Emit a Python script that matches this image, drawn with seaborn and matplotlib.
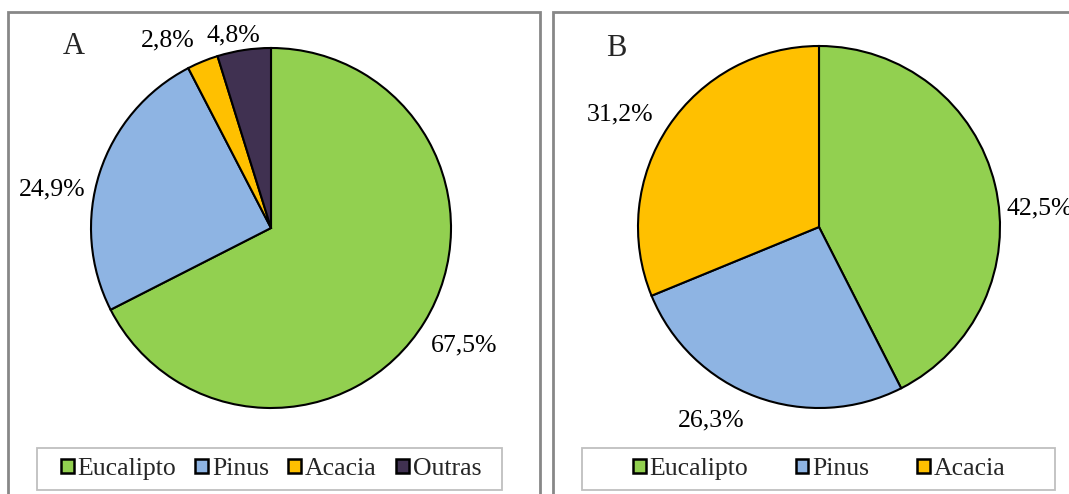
import numpy as np
import matplotlib.pyplot as plt
import seaborn as sns
from matplotlib.patches import Rectangle

# data
species_a = ['Eucalipto', 'Pinus', 'Acacia', 'Outras']
share_a = [67.5, 24.9, 2.8, 4.8]
species_b = ['Eucalipto', 'Pinus', 'Acacia']
share_b = [42.5, 26.3, 31.2]
panel_names = ['A', 'B']

colors = sns.color_palette(['#92D050', '#8EB4E3', '#FFC000', '#403151'])

sns.set_theme(style='white')
plt.rcParams['font.family'] = ['Liberation Serif', 'DejaVu Serif']
FS = 18.5

W, H = 1069, 494
fig = plt.figure(figsize=(W / 100, H / 100), dpi=100)


def px_rect(x0, y0, x1, y1):
    # pixel box (top-left origin) -> figure fraction rect
    return [x0 / W, 1 - y1 / H, (x1 - x0) / W, (y1 - y0) / H]


def draw_pie(center, radius, values, names, shift, dist, legend_box, colsp):
    cx, cy = center
    ax = fig.add_axes(px_rect(cx - radius, cy - radius, cx + radius, cy + radius))
    wedges, _ = ax.pie(values, colors=colors[:len(values)], startangle=90,
                       counterclock=False,
                       wedgeprops=dict(edgecolor='black', linewidth=1.5))
    ax.set_xlim(-1, 1)
    ax.set_ylim(-1, 1)
    for w in wedges:
        w.set_clip_on(False)
    for w, v, s, d in zip(wedges, values, shift, dist):
        ang = np.deg2rad((w.theta1 + w.theta2) / 2 + s)
        ax.text(d * np.cos(ang), d * np.sin(ang), f'{v:.1f}%'.replace('.', ','),
                ha='center', va='center_baseline', fontsize=FS, color='black',
                clip_on=False)
    # legend frame drawn separately, legend centered under the pie
    x0, y0, x1, y1 = legend_box
    fig.patches.append(Rectangle((x0 / W, 1 - y1 / H), (x1 - x0) / W, (y1 - y0) / H,
                                 transform=fig.transFigure, fill=False,
                                 edgecolor='#bfbfbf', linewidth=1.3))
    leg = fig.legend(wedges, names, loc='center',
                     bbox_to_anchor=(cx / W, 1 - (y0 + y1) / 2 / H),
                     ncol=len(names), frameon=False, fontsize=FS,
                     handlelength=0.5, handleheight=0.5, handletextpad=0.15,
                     columnspacing=colsp, borderpad=0)
    for h in leg.legend_handles:
        h.set_linewidth(1.8)
    return ax


# panel borders
for box in [(8, 12, 540, 500), (553, 12, 1075, 500)]:
    x0, y0, x1, y1 = box
    fig.patches.append(Rectangle((x0 / W, 1 - y1 / H), (x1 - x0) / W, (y1 - y0) / H,
                                 transform=fig.transFigure, fill=False,
                                 edgecolor='#878787', linewidth=2.0))

draw_pie((271, 228), 180, share_a, species_a,
         shift=[0.7, 7.2, 6.2, 2.4], dist=[1.248, 1.238, 1.20, 1.104],
         legend_box=(37, 448, 502, 490), colsp=0.75)
draw_pie((819, 227), 181, share_b, species_b,
         shift=[-8.1, -9.2, 3.8], dist=[1.226, 1.212, 1.27],
         legend_box=(582, 448, 1055, 490), colsp=1.85)

fig.text(74 / W, 1 - 43 / H, panel_names[0], fontsize=22, ha='center', va='center_baseline')
fig.text(616 / W, 1 - 45 / H, panel_names[1], fontsize=22, ha='center', va='center_baseline')

fig.savefig('out.png', dpi=100, facecolor='white')
